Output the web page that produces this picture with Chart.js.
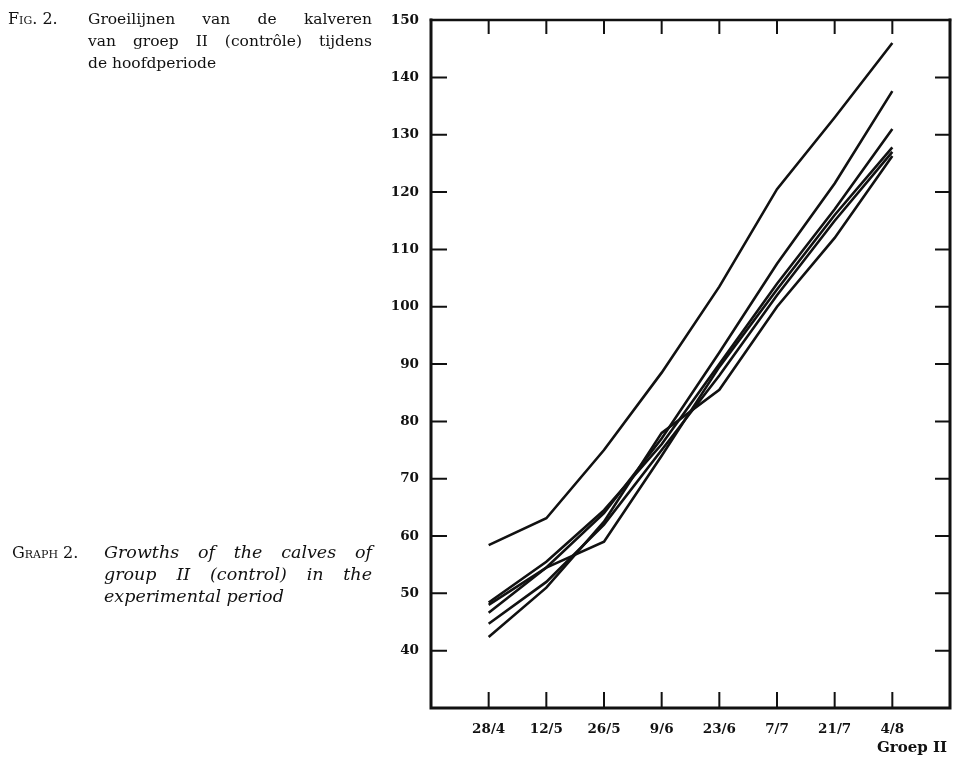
<!DOCTYPE html>
<html>
<head>
<meta charset="utf-8">
<script src="https://cdn.jsdelivr.net/npm/chart.js@4/dist/chart.umd.min.js"></script>
<style>
    body { margin: 0; background: #fff; }
    #wrap { position: relative; width: 965px; height: 759px; }
    .cap { position: absolute; font-family: 'DejaVu Serif', serif; font-size: 15.5px; line-height: 22px; color: #111; white-space: nowrap; }
    .just { text-align: justify; text-align-last: justify; white-space: normal; }
    .sc { font-variant: small-caps; }
    .it { font-style: italic; font-size: 17.5px; }
</style>
</head>
<body>
<div id="wrap">
    <canvas id="growthChart" width="965" height="759"></canvas>

    <div class="cap" style="left:8px; top:8px; font-size:16px;"><span class="sc">Fig.</span> 2.</div>
    <div class="cap just" style="left:88px; top:8px; width:284px;">Groeilijnen van de kalveren</div>
    <div class="cap just" style="left:88px; top:30px; width:284px;">van groep II (contrôle) tijdens</div>
    <div class="cap" style="left:88px; top:52px;">de hoofdperiode</div>

    <div class="cap" style="left:12px; top:542px; font-size:16px;"><span class="sc">Graph</span> 2.</div>
    <div class="cap it just" style="left:104px; top:541px; width:268px;">Growths of the calves of</div>
    <div class="cap it just" style="left:104px; top:563px; width:268px;">group II (control) in the</div>
    <div class="cap it" style="left:104px; top:585px;">experimental period</div>

    <div class="cap" style="left:877px; top:736px; font-weight:bold; font-size:15px;">Groep II</div>
</div>
<script>
/**
 * Groeilijnen kalveren groep II
 */
const dates = ['28/4', '12/5', '26/5', '9/6', '23/6', '7/7', '21/7', '4/8'];

const calf1 = [58.4, 63.1, 75.0, 88.5, 103.5, 120.5, 133.0, 146.0];
const calf2 = [46.6, 54.5, 64.0, 77.0, 92.0, 107.5, 121.5, 137.6];
const calf3 = [48.4, 55.5, 64.5, 76.0, 90.0, 104.0, 117.0, 131.0];
const calf4 = [48.0, 54.5, 59.0, 74.0, 89.5, 103.0, 116.0, 127.8];
const calf5 = [44.7, 52.0, 62.0, 75.0, 88.0, 102.0, 115.0, 127.0];
const calf6 = [42.4, 51.0, 62.5, 78.0, 85.5, 100.0, 112.0, 126.3];

const allCalves = [calf1, calf2, calf3, calf4, calf5, calf6];

const tickFont = { family: 'DejaVu Serif', size: 13.5, weight: 'bold' };

// kader met naar binnen gerichte streepjes
const frameTicks = {
    id: 'frameTicks',
    afterDraw(chart) {
        const { ctx, chartArea: a, scales } = chart;
        ctx.save();
        ctx.strokeStyle = '#111';
        ctx.lineCap = 'square';

        ctx.lineWidth = 3;
        ctx.beginPath();
        ctx.moveTo(a.left, a.top);
        ctx.lineTo(a.left, a.bottom);
        ctx.lineTo(a.right, a.bottom);
        ctx.lineTo(a.right, a.top);
        ctx.stroke();
        ctx.lineWidth = 2.5;
        ctx.beginPath();
        ctx.moveTo(a.left, a.top);
        ctx.lineTo(a.right, a.top);
        ctx.stroke();

        ctx.lineWidth = 2;
        ctx.lineCap = 'butt';
        scales.y.ticks.forEach(t => {
            if (t.value <= 30 || t.value >= 150) return;
            const py = scales.y.getPixelForValue(t.value);
            ctx.beginPath();
            ctx.moveTo(a.left, py); ctx.lineTo(a.left + 16, py);
            ctx.moveTo(a.right, py); ctx.lineTo(a.right - 15, py);
            ctx.stroke();
        });
        dates.forEach((d, i) => {
            const px = scales.x.getPixelForValue(i);
            ctx.beginPath();
            ctx.moveTo(px, a.bottom); ctx.lineTo(px, a.bottom - 16);
            ctx.moveTo(px, a.top); ctx.lineTo(px, a.top + 14);
            ctx.stroke();
        });
        ctx.restore();
    }
};

const canvas = document.getElementById('growthChart');
new Chart(canvas.getContext('2d'), {
    type: 'line',
    data: {
        datasets: allCalves.map((vals, n) => ({
            label: 'kalf ' + (n + 1),
            data: vals.map((v, i) => ({ x: i, y: v })),
            borderColor: '#111',
            borderWidth: 2.6,
            pointRadius: 0,
            tension: 0,
            fill: false
        }))
    },
    options: {
        responsive: false,
        animation: false,
        layout: { padding: { top: 13, right: 15, left: 0, bottom: 0 } },
        plugins: {
            legend: { display: false },
            tooltip: { enabled: false }
        },
        scales: {
            x: {
                type: 'linear',
                min: -1,
                max: 8,
                border: { display: false },
                grid: { display: false, drawTicks: false },
                ticks: {
                    stepSize: 1,
                    autoSkip: false,
                    maxRotation: 0,
                    padding: 13,
                    color: '#111',
                    font: tickFont,
                    callback: v => dates[v] || ''
                },
                afterFit: s => { s.height = 51; }
            },
            y: {
                min: 30,
                max: 150,
                border: { display: false },
                grid: { display: false, drawTicks: false },
                ticks: {
                    stepSize: 10,
                    padding: 12,
                    color: '#111',
                    font: tickFont,
                    callback: v => (v > 30 ? v : '')
                },
                afterFit: s => { s.width = 431; }
            }
        }
    },
    plugins: [frameTicks]
});
</script>
</body>
</html>
